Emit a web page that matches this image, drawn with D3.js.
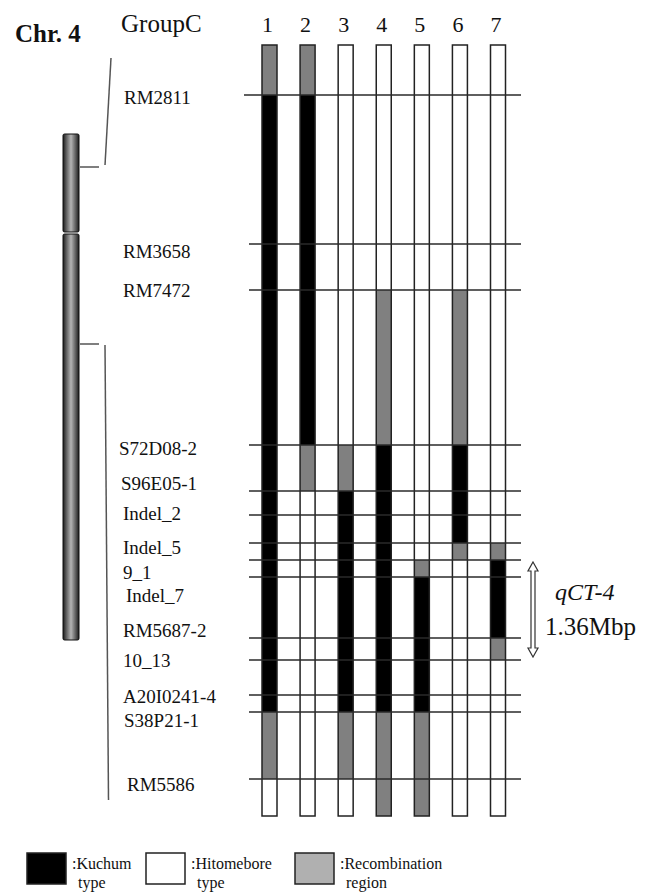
<!DOCTYPE html>
<html>
<head>
<meta charset="utf-8">
<script src="https://cdn.jsdelivr.net/npm/d3@7"></script>
<style>
  body { margin: 0; background: #fff; }
  text { font-family: "Liberation Serif", "DejaVu Serif", serif; fill: #111; }
</style>
</head>
<body>
<script>
// markers of the GroupC region, map position from top of the region
var markers = ['RM2811', 'RM3658', 'RM7472', 'S72D08-2', 'S96E05-1', 'Indel_2', 'Indel_5',
  '9_1', 'Indel_7', 'RM5687-2', '10_13', 'A20I0241-4', 'S38P21-1', 'RM5586'];
var markerPos = [50, 199, 245, 400, 446, 470, 498, 515, 532, 593, 615, 650, 667, 734];
var mapEnd = 771;

var lines = ['1', '2', '3', '4', '5', '6', '7'];
// one letter per interval: top-RM2811, RM2811-RM3658, ..., RM5586-bottom
// K = Kuchum type, H = Hitomebore type, R = recombination region
var genotypes = [
  'RKKKKKKKKKKKKRH',
  'RKKKRHHHHHHHHHH',
  'HHHHRKKKKKKKKRH',
  'HHHRKKKKKKKKKRR',
  'HHHHHHHHRKKKKRR',
  'HHHRKKKRHHHHHHH',
  'HHHHHHHRKKRHHHH'
];

var legendKeys = ['K', 'H', 'R'];
var legendLabels = [[':Kuchum', 'type'], [':Hitomebore', 'type'], [':Recombination', 'region']];

// whole chromosome: two arms and the part that is enlarged
var chrArms = [[0, 98], [100, 506]];
var chrRegion = [33, 210];

var qtlName = 'qCT-4';
var qtlSize = '1.36Mbp';
var qtlMarkers = ['9_1', '10_13'];

/////////////////////////////////////
var width = 648, height = 894;
var barW = 15;

// label nudges (layout only)
var labelDx = [124, 123, 123, 119, 121, 123, 123, 123, 126, 123, 123, 123, 124, 127];
var labelDy = [2, 7, 0, 3, -8, -2, 4, 12, 18, -8, 0, 1, 8, 5];
var legendX = [27, 146, 295];

var svg = d3.select('body').append('svg')
  .attr('width', width)
  .attr('height', height);

var y = d3.scaleLinear().domain([0, mapEnd]).range([45, 816]);
var x = d3.scalePoint().domain(lines).range([269.5, 498]);
var chrY = d3.scaleLinear().domain([0, 506]).range([134, 640]);

var fill = d3.scaleOrdinal().domain(['K', 'H', 'R']).range(['#000', '#fff', '#808080']);
var legendFill = d3.scaleOrdinal().domain(['K', 'H', 'R']).range(['#000', '#fff', '#b0b0b0']);

var bounds = [0].concat(markerPos, [mapEnd]);

// titles
svg.append('text')
  .attr('x', 15).attr('y', 42)
  .style('font-size', '25px')
  .style('font-weight', 'bold')
  .text('Chr. 4');

svg.append('text')
  .attr('x', 121).attr('y', 32)
  .style('font-size', '25px')
  .text('GroupC');

// line numbers
svg.selectAll('text.colnum')
  .data(lines)
  .enter().append('text')
  .attr('class', 'colnum')
  .attr('x', function(d){ return x(d) - 2; })
  .attr('y', 32)
  .attr('text-anchor', 'middle')
  .style('font-size', '22px')
  .text(function(d){ return d; });

// graphical genotypes
genotypes.forEach(function(g, i){
  var segs = g.split('').map(function(t, j){
    return {type: t, y0: bounds[j], y1: bounds[j + 1]};
  });

  var col = svg.append('g')
    .attr('transform', 'translate(' + (x(lines[i]) - barW / 2) + ',0)');

  col.selectAll('rect')
    .data(segs)
    .enter().append('rect')
    .attr('x', 0)
    .attr('y', function(d){ return y(d.y0); })
    .attr('width', barW)
    .attr('height', function(d){ return y(d.y1) - y(d.y0); })
    .style('fill', function(d){ return fill(d.type); });

  col.append('rect')
    .attr('x', 0)
    .attr('y', y(0))
    .attr('width', barW)
    .attr('height', y(mapEnd) - y(0))
    .style('fill', 'none')
    .style('stroke', '#222')
    .style('stroke-width', 1.5);
});

// marker lines
svg.selectAll('line.marker')
  .data(markers)
  .enter().append('line')
  .attr('class', 'marker')
  .attr('x1', function(d, i){ return i === 0 ? 244 : 249; })
  .attr('x2', 521)
  .attr('y1', function(d, i){ return y(markerPos[i]); })
  .attr('y2', function(d, i){ return y(markerPos[i]); })
  .style('stroke', '#2a2a2a')
  .style('stroke-width', 1.5);

// marker labels
svg.selectAll('text.marker')
  .data(markers)
  .enter().append('text')
  .attr('class', 'marker')
  .attr('x', function(d, i){ return labelDx[i]; })
  .attr('y', function(d, i){ return y(markerPos[i]) + labelDy[i] + 6.5; })
  .style('font-size', '19px')
  .text(function(d){ return d; });

// chromosome
var grad = svg.append('defs').append('linearGradient')
  .attr('id', 'chrgrad')
  .attr('x1', '0%').attr('x2', '100%').attr('y1', '0%').attr('y2', '0%');
[[0, '#1a1a1a'], [0.18, '#555'], [0.5, '#b4b4b4'], [0.82, '#555'], [1, '#1a1a1a']].forEach(function(s){
  grad.append('stop').attr('offset', s[0]).attr('stop-color', s[1]);
});

svg.selectAll('rect.chr')
  .data(chrArms)
  .enter().append('rect')
  .attr('class', 'chr')
  .attr('x', 63)
  .attr('y', function(d){ return chrY(d[0]); })
  .attr('width', 16)
  .attr('height', function(d){ return chrY(d[1]) - chrY(d[0]); })
  .attr('rx', 1.5)
  .style('fill', 'url(#chrgrad)')
  .style('stroke', '#111')
  .style('stroke-width', 1);

// connectors from chromosome to the enlarged map
var conn = svg.append('g').style('stroke', '#555').style('stroke-width', 1.5).style('fill', 'none');
chrRegion.forEach(function(p){
  conn.append('line')
    .attr('x1', 80).attr('x2', 99)
    .attr('y1', chrY(p)).attr('y2', chrY(p));
});
conn.append('line')
  .attr('x1', 105).attr('y1', chrY(chrRegion[0]) - 2)
  .attr('x2', 111).attr('y2', y(13));
conn.append('line')
  .attr('x1', 105).attr('y1', chrY(chrRegion[1]) + 1)
  .attr('x2', 108.5).attr('y2', y(755));

// QTL arrow
var qa = y(markerPos[markers.indexOf(qtlMarkers[0])]) + 2;
var qb = y(markerPos[markers.indexOf(qtlMarkers[1])]) - 3;
var ax = 533, sw = 2, hw = 5, hl = 9;
var arrow = d3.path();
arrow.moveTo(ax, qa);
arrow.lineTo(ax + hw, qa + hl);
arrow.lineTo(ax + sw, qa + hl);
arrow.lineTo(ax + sw, qb - hl);
arrow.lineTo(ax + hw, qb - hl);
arrow.lineTo(ax, qb);
arrow.lineTo(ax - hw, qb - hl);
arrow.lineTo(ax - sw, qb - hl);
arrow.lineTo(ax - sw, qa + hl);
arrow.lineTo(ax - hw, qa + hl);
arrow.closePath();

svg.append('path')
  .attr('d', arrow.toString())
  .style('fill', '#fff')
  .style('stroke', '#333')
  .style('stroke-width', 1.2);

svg.append('text')
  .attr('x', 555).attr('y', 600)
  .style('font-size', '24px')
  .style('font-style', 'italic')
  .text(qtlName);

svg.append('text')
  .attr('x', 545).attr('y', 635)
  .style('font-size', '25px')
  .text(qtlSize);

// legend
var legend = svg.selectAll('g.legend')
  .data(legendKeys)
  .enter().append('g')
  .attr('class', 'legend')
  .attr('transform', function(d, i){ return 'translate(' + legendX[i] + ',853)'; });

legend.append('rect')
  .attr('x', 0).attr('y', 0)
  .attr('width', 39).attr('height', 31)
  .style('fill', function(d){ return legendFill(d); })
  .style('stroke', '#222')
  .style('stroke-width', 1.5);

legend.append('text')
  .attr('x', 45).attr('y', 16)
  .style('font-size', '16px')
  .text(function(d, i){ return legendLabels[i][0]; });

legend.append('text')
  .attr('x', 51).attr('y', 34.5)
  .style('font-size', '16px')
  .text(function(d, i){ return legendLabels[i][1]; });
</script>
</body>
</html>
